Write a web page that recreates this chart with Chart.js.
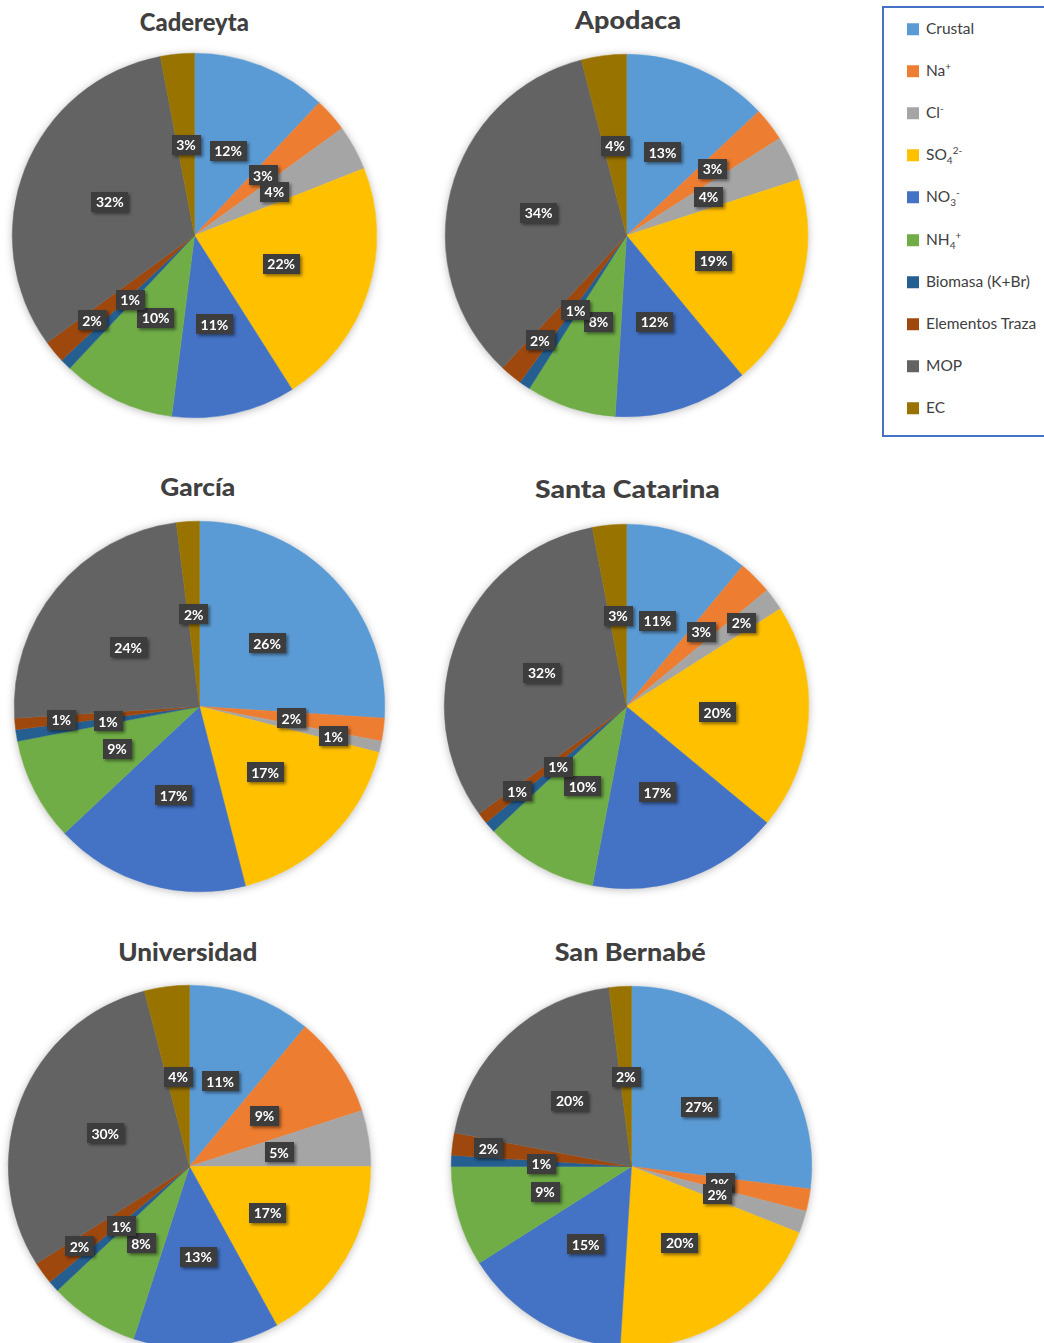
<!DOCTYPE html>
<html><head><meta charset="utf-8">
<script src="https://cdn.jsdelivr.net/npm/chart.js@4/dist/chart.umd.min.js"></script>
<style>
html,body{margin:0;padding:0;background:#fff;}
body{width:1044px;height:1343px;overflow:hidden;position:relative;font-family:Lato,"Open Sans",sans-serif;}
.title{position:absolute;font-weight:900;font-size:25px;color:#404040;white-space:nowrap;line-height:1;}
canvas{position:absolute;}
#legend{position:absolute;left:882px;top:6px;width:180px;height:431px;border:2px solid #4472C4;box-sizing:border-box;}
.item{position:absolute;left:23px;font-size:15.5px;color:#404040;white-space:nowrap;line-height:1;transform:translateY(-50%);}
.item span.sw{display:inline-block;width:12px;height:12px;margin-right:7px;vertical-align:-1px;}
sup,sub{font-size:10px;line-height:0;}
</style>
</head><body>
<div id="legend"></div>
<script>
// ---- data ----
const categories = ['Crustal','Na⁺','Cl⁻','SO₄²⁻','NO₃⁻','NH₄⁺','Biomasa (K+Br)','Elementos Traza','MOP','EC'];
const legendMarkup = ['Crustal','Na<sup>+</sup>','Cl<sup>-</sup>','SO<sub>4</sub><sup>2-</sup>','NO<sub>3</sub><sup>-</sup>','NH<sub>4</sub><sup>+</sup>','Biomasa (K+Br)','Elementos Traza','MOP','EC'];
const stations = ['Cadereyta','Apodaca','García','Santa Catarina','Universidad','San Bernabé'];
const cadereyta     = [12, 3, 4, 22, 11, 10, 1, 2, 32, 3];
const apodaca       = [13, 3, 4, 19, 12,  8, 1, 2, 34, 4];
const garcia        = [26, 2, 1, 17, 17,  9, 1, 1, 24, 2];
const santaCatarina = [11, 3, 2, 20, 17, 10, 1, 1, 32, 3];
const universidad   = [11, 9, 5, 17, 13,  8, 1, 2, 30, 4];
const sanBernabe    = [27, 2, 2, 20, 15,  9, 1, 2, 20, 2];
const seriesValues = [cadereyta, apodaca, garcia, santaCatarina, universidad, sanBernabe];

// ---- styles / layout ----
const colors = ['#5B9BD5','#ED7D31','#A5A5A5','#FFC000','#4472C4','#70AD47','#255E91','#9E480E','#636363','#997300'];
const layout = [
  {cx:194, cy:235, r:182, tx:194, ty:21, tw:109, lab:{7:0.73}},
  {cx:626, cy:235, r:181, tx:628, ty:19, tw:106, lab:{1:0.6, 7:0.75}},
  {cx:199, cy:706, r:185, tx:198, ty:486, tw:75, lab:{2:0.74, 7:0.75}},
  {cx:626, cy:706, r:182, tx:627, ty:488, tw:185, lab:{1:0.58, 2:0.78, 7:0.76}},
  {cx:189, cy:1166, r:181, tx:188, ty:951, tw:139, lab:{7:0.75}},
  {cx:631, cy:1166, r:180, tx:630, ty:951, tw:151, lab:{7:0.8}}
];

// legend
const lg = document.getElementById('legend');
legendMarkup.forEach((m,i)=>{
  const d = document.createElement('div');
  d.className='item';
  d.style.top = (21 + i*42.1) + 'px';
  d.innerHTML = '<span class="sw" style="background:'+colors[i]+'"></span>'+m;
  lg.appendChild(d);
});

const shadowPlugin = {
  id:'pieShadow',
  beforeDatasetsDraw(chart){
    const arc = chart.getDatasetMeta(0).data[0];
    if(!arc) return;
    const ctx = chart.ctx;
    ctx.save();
    ctx.shadowColor='rgba(0,0,0,0.28)';
    ctx.shadowBlur=9;
    ctx.shadowOffsetX=0; ctx.shadowOffsetY=1;
    ctx.fillStyle='#ffffff';
    ctx.beginPath();
    ctx.arc(arc.x, arc.y, arc.outerRadius, 0, Math.PI*2);
    ctx.fill();
    ctx.restore();
  }
};

const labelPlugin = {
  id:'pctLabels',
  afterDatasetsDraw(chart, args, opts){
    const meta = chart.getDatasetMeta(0);
    const data = chart.data.datasets[0].data;
    const ctx = chart.ctx;
    const over = opts.factors || {};
    ctx.save();
    ctx.font = 'bold 14px Lato, "Open Sans", sans-serif';
    ctx.textAlign='center'; ctx.textBaseline='middle';
    meta.data.forEach((a,i)=>{
      const mid = (a.startAngle + a.endAngle)/2;
      const f = over[i] !== undefined ? over[i] : 0.5;
      const x = a.x + Math.cos(mid)*a.outerRadius*f;
      const y = a.y + Math.sin(mid)*a.outerRadius*f;
      const txt = data[i] + '%';
      const w = ctx.measureText(txt).width + 9;
      const h = 20;
      ctx.save();
      ctx.shadowColor='rgba(0,0,0,0.45)';
      ctx.shadowBlur=3; ctx.shadowOffsetX=2; ctx.shadowOffsetY=2;
      ctx.fillStyle='#3d3d3d';
      ctx.fillRect(Math.round(x-w/2), Math.round(y-h/2), Math.round(w), h);
      ctx.restore();
      ctx.fillStyle='#ffffff';
      ctx.fillText(txt, x, y+1);
    });
    ctx.restore();
  }
};

const pad = 16;
stations.forEach((name, k)=>{
  const L = layout[k];
  const t = document.createElement('div');
  t.className='title'; t.textContent=name;
  document.body.appendChild(t);
  const w = t.getBoundingClientRect().width;
  const h = t.getBoundingClientRect().height;
  const sx = L.tw / w;
  t.style.left=(L.tx - w/2)+'px'; t.style.top=(L.ty - h/2)+'px';
  t.style.transform='scaleX('+sx.toFixed(3)+')';
  t.style.transformOrigin='50% 50%';
  const c = document.createElement('canvas');
  const S = 2*L.r + 2*pad + 1;
  c.width=S; c.height=S;
  c.style.width=S+'px'; c.style.height=S+'px';
  c.style.left=(L.cx - L.r - pad)+'px';
  c.style.top=(L.cy - L.r - pad)+'px';
  document.body.appendChild(c);
  new Chart(c, {
    type:'pie',
    data:{labels:categories, datasets:[{data:seriesValues[k], backgroundColor:colors, borderColor:colors, borderWidth:0.5, hoverOffset:0}]},
    options:{
      responsive:false, animation:false, devicePixelRatio:1,
      layout:{padding:pad},
      plugins:{legend:{display:false}, tooltip:{enabled:false}, title:{display:false}, pctLabels:{factors:L.lab}}
    },
    plugins:[shadowPlugin, labelPlugin]
  });
});
</script>
</body></html>
